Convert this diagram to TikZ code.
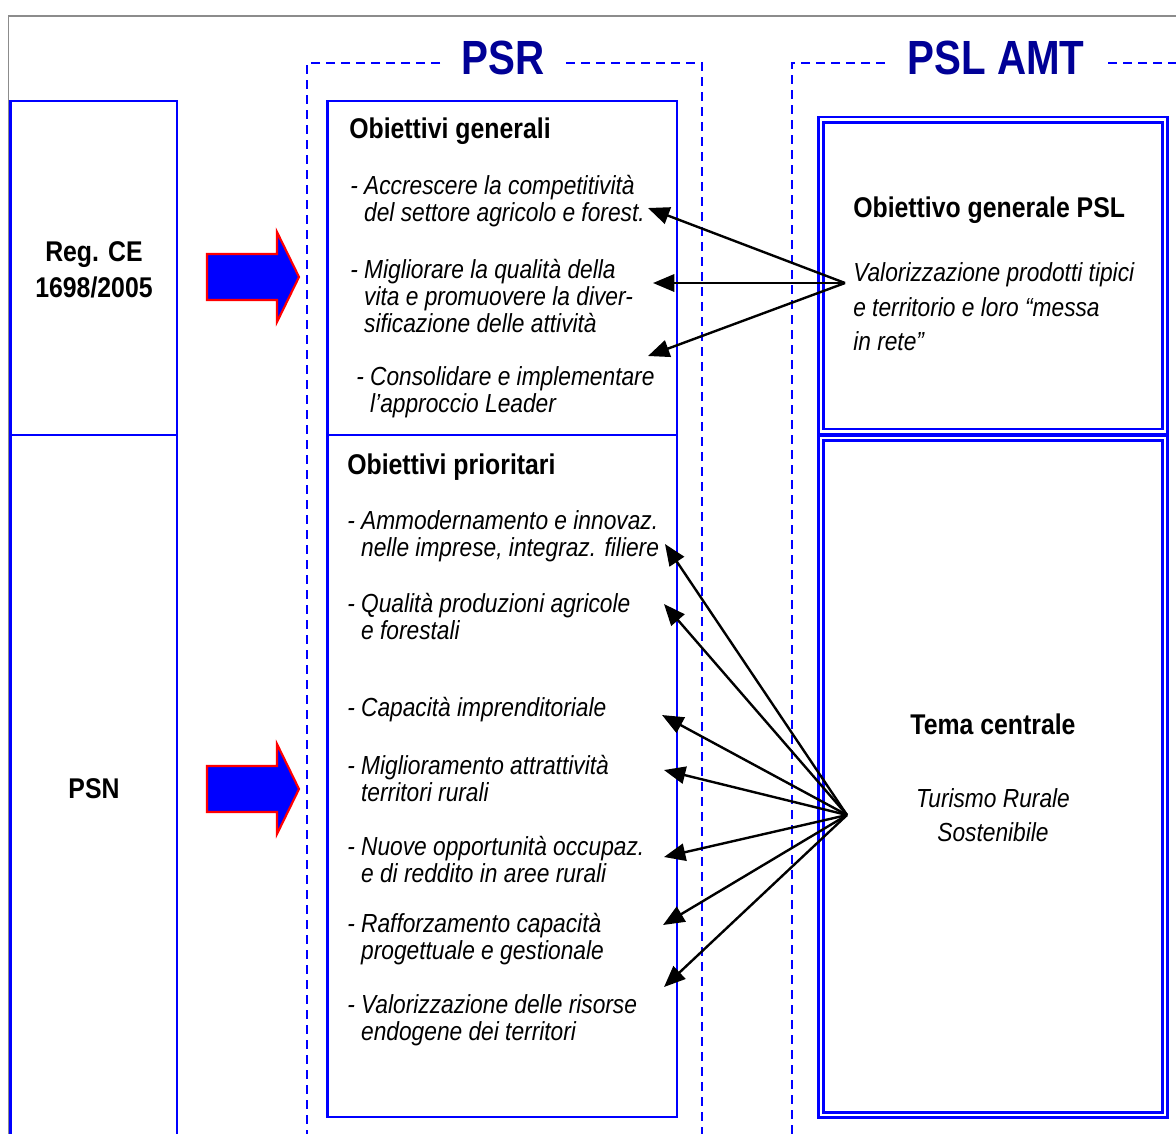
\documentclass[tikz,border=0pt]{standalone}
\usepackage{fontspec}
\setmainfont{Liberation Sans}
\newfontfamily\stretta{Liberation Sans}[FakeStretch=0.87]
\newfontfamily\strettissima{Liberation Sans}[FakeStretch=0.84]
\usetikzlibrary{arrows.meta}
\definecolor{blu}{RGB}{0,0,255}
\definecolor{blutitolo}{RGB}{0,0,150}
\definecolor{grigio}{RGB}{140,140,140}
\tikzset{
  cornice/.style={draw=blu, line width=1.7pt},
  tratteggio/.style={draw=blu, line width=1.9pt, dash pattern=on 6.75pt off 4.5pt},
  doppio/.style={draw=blu, double=white, line width=1.9pt, double distance=2.2pt},
  titolo/.style={inner sep=0, text=blutitolo, font=\strettissima\bfseries\fontsize{36}{40}\selectfont},
  intestazione/.style={anchor=west, inner sep=0, font=\stretta\bfseries\fontsize{21.4}{27}\selectfont},
  etichetta/.style={inner sep=0, align=center, font=\stretta\bfseries\fontsize{21.4}{27}\selectfont},
  voce/.style={anchor=west, inner sep=0, align=left, font=\stretta\itshape\fontsize{19.6}{20.25}\selectfont},
  vocepsl/.style={inner sep=0, font=\stretta\itshape\fontsize{19.6}{25.8}\selectfont},
  freccia/.style={-{Triangle[length=16pt,width=13pt]}, line width=1.8pt},
  blocco/.style={draw=red, fill=blu, line width=1.6pt, line join=miter}
}
\begin{document}
\begin{tikzpicture}[x=0.75pt, y=-0.75pt]
\useasboundingbox (0,0) rectangle (1176,1133);
\clip (0,0) rectangle (1176,1133);

\draw[grigio, line width=1.2pt] (8.3,1140) -- (8.3,16) -- (1180,16);

\draw[cornice] (10.5,1140) -- (10.5,101) -- (177,101) -- (177,1140);
\draw[cornice] (10.5,435) -- (177,435);
\node[etichetta] (reg) at (94,270) {Reg. CE\\1698/2005};
\node[etichetta] (psn) at (94,789) {PSN};

\foreach \y in {277,789}
  \draw[blocco] (207,\y-23) -- (277,\y-23) -- (277,\y-45) -- (299,\y) -- (277,\y+45) -- (277,\y+23) -- (207,\y+23) -- cycle;

\node[titolo] (psr) at (503,58) {PSR};
\draw[tratteggio] (440,63) -- (307,63) -- (307,1140);
\draw[tratteggio] (566,63) -- (702,63) -- (702,1140);
\draw[cornice] (327.5,101) rectangle (677,1117);
\draw[cornice] (327.5,435) -- (677,435);

\node[intestazione] (obgen) at (349,131) {Obiettivi generali};
\node[voce] (g1) at (350,201) {- Accrescere la competitività\\\hphantom{- }del settore agricolo e forest.};
\node[voce] (g2) at (350,296) {- Migliorare la qualità della\\\hphantom{- }vita e promuovere la diver-\\\hphantom{- }sificazione delle attività};
\node[voce] (g3) at (356,392) {- Consolidare e implementare\\\hphantom{- }l’approccio Leader};

\node[intestazione] (obprio) at (347,467) {Obiettivi prioritari};
\node[voce] (p1) at (347,536) {- Ammodernamento e innovaz.\\\hphantom{- }nelle imprese, integraz. filiere};
\node[voce] (p2) at (347,616) {- Qualità produzioni agricole\\\hphantom{- }e forestali};
\node[voce] (p3) at (347,710) {- Capacità imprenditoriale};
\node[voce] (p4) at (347,778) {- Miglioramento attrattività\\\hphantom{- }territori rurali};
\node[voce] (p5) at (347,859) {- Nuove opportunità occupaz.\\\hphantom{- }e di reddito in aree rurali};
\node[voce] (p6) at (347,939) {- Rafforzamento capacità\\\hphantom{- }progettuale e gestionale};
\node[voce] (p7) at (347,1020) {- Valorizzazione delle risorse\\\hphantom{- }endogene dei territori};

\node[titolo] (psl) at (996,58) {PSL AMT};
\draw[tratteggio] (885,63) -- (792,63) -- (792,1140);
\draw[tratteggio] (1108,63) -- (1180,63);
\draw[doppio] (821,119.5) rectangle (1165,431.5);
\draw[doppio] (821,438) rectangle (1165,1115);

\node[intestazione] (obpsl) at (853,210) {Obiettivo generale PSL};
\node[vocepsl, anchor=west, align=left] (valor) at (853,307) {Valorizzazione prodotti tipici\\e territorio e loro “messa\\in rete”};
\node[etichetta] (tema) at (993,724) {Tema centrale};
\node[vocepsl, align=center] (turismo) at (993,815) {Turismo Rurale\\Sostenibile};

\coordinate (fonteGen) at (845,283);
\foreach \n/\x/\y in {1/648/208, 2/653/283, 3/648/356}{
  \coordinate (pg\n) at (\x,\y);
  \draw[freccia] (fonteGen) -- (pg\n);
}
\coordinate (fonteTema) at (847,815);
\foreach \n/\x/\y in {1/665/544, 2/664/604, 3/662/715, 4/664/770, 5/664/857, 6/663/925, 7/664/987}{
  \coordinate (pp\n) at (\x,\y);
  \draw[freccia] (fonteTema) -- (pp\n);
}
\end{tikzpicture}
\end{document}
